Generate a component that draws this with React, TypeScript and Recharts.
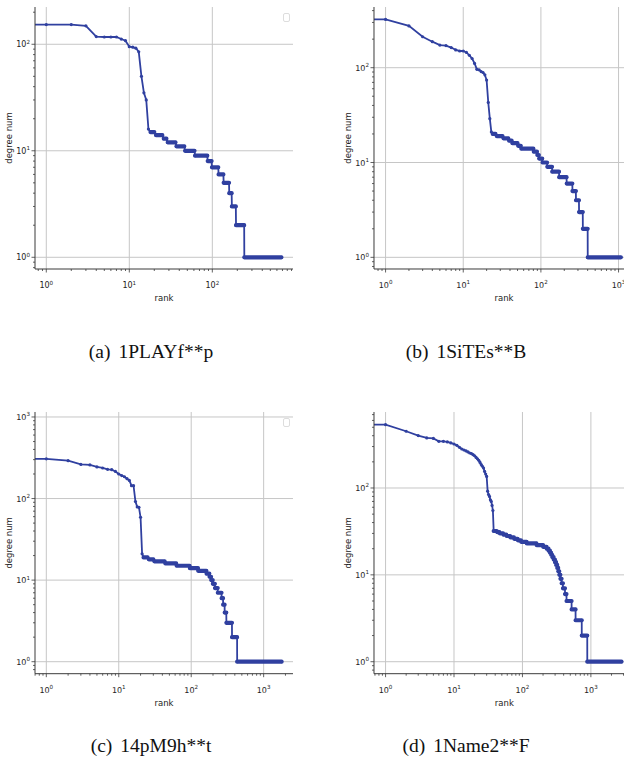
import React from 'react';
import { LineChart, Line, XAxis, YAxis, ReferenceLine } from 'recharts';

const LINE_COLOR = '#3040a0';
const GRID_COLOR = '#c6c6c6';
const SPINE_COLOR = '#3a3a3a';
const FONT = '"DejaVu Sans", sans-serif';

// log axis tick values: powers of ten get a label, the rest are minor marks
const logTicks = [
  0.6, 0.7, 0.8, 0.9, 1, 2, 3, 4, 5, 6, 7, 8, 9, 10, 20, 30, 40, 50, 60, 70, 80, 90,
  100, 200, 300, 400, 500, 600, 700, 800, 900, 1000, 2000, 3000, 4000, 5000, 6000, 7000, 8000, 9000,
];
const gridValues = [1, 10, 100, 1000];

const captionTags = ['(a)', '(b)', '(c)', '(d)'];
const captionNames = ['1PLAYf**p', '1SiTEs**B', '14pM9h**t', '1Name2**F'];

// rank 0 is clipped by the log axis, so it sits left of the frame (0.01)
// (a) 1PLAYf**p
const headRankA = [0.01, 1, 2, 3, 4, 5, 6, 7, 8, 9, 10, 11, 12, 13, 14, 15, 16, 17];
const headDegA = [153, 153, 153, 149, 118, 117, 117, 117, 112, 108, 95, 94, 92, 85, 50, 35, 30, 16];
const stepDegA = [15, 14, 13, 12, 11, 10, 9, 8, 7, 6, 5, 4, 3, 2, 1];
const stepFromA = [18, 21, 26, 29, 37, 47, 62, 88, 99, 119, 137, 160, 172, 193, 243];
const stepToA = [20, 25, 28, 36, 46, 61, 87, 98, 118, 136, 159, 171, 192, 242, 680];

// (b) 1SiTEs**B
const headRankB = [0.01, 1, 2, 3, 4, 5, 6, 7, 8, 9, 10, 11, 12, 13, 14, 15, 16, 17, 18, 19, 20, 21, 22, 23];
const headDegB = [323, 323, 276, 212, 188, 173, 171, 163, 154, 150, 150, 145, 135, 125, 111, 96, 95, 91, 89, 84, 74, 43, 29, 21];
const stepDegB = [20, 19, 18, 17, 16, 15, 14, 13, 12, 11, 10, 9, 8, 7, 6, 5, 4, 3, 2, 1];
const stepFromB = [24, 27, 33, 39, 43, 51, 56, 81, 90, 95, 105, 121, 140, 172, 215, 255, 283, 310, 347, 401];
const stepToB = [26, 32, 38, 42, 50, 55, 80, 89, 94, 104, 120, 139, 171, 214, 254, 282, 309, 346, 400, 1070];

// (c) 14pM9h**t
const headRankC = [0.01, 1, 2, 3, 4, 5, 6, 7, 8, 9, 10, 11, 12, 13, 14, 15, 16, 17, 18, 19, 20, 21];
const headDegC = [308, 307, 291, 262, 258, 244, 237, 228, 226, 215, 200, 191, 185, 175, 167, 144, 144, 92, 79, 78, 59, 21];
const stepDegC = [19, 18, 17, 16, 15, 14, 13, 12, 11, 10, 9, 8, 7, 6, 5, 4, 3, 2, 1];
const stepFromC = [22, 26, 31, 44, 63, 96, 125, 163, 179, 189, 199, 213, 233, 263, 276, 290, 306, 366, 431];
const stepToC = [25, 30, 43, 62, 95, 124, 162, 178, 188, 198, 212, 232, 262, 275, 289, 305, 365, 430, 1770];

// (d) 1Name2**F
const headRankD = [
  0.01, 1, 2, 3, 4, 5, 6, 7, 8, 9, 10, 11, 12, 13, 14, 15, 16, 17, 18, 19, 20,
  21, 22, 23, 24, 25, 26, 27, 28, 29, 30, 31, 32, 33, 34, 35, 36, 37,
];
const headDegD = [
  536, 536, 450, 401, 377, 372, 345, 345, 339, 330, 321, 310, 294, 281, 274, 267, 260, 253, 249, 242, 235,
  225, 217, 208, 197, 186, 178, 170, 155, 145, 136, 92, 84, 80, 73, 70, 63, 55,
];
const stepDegD = [32, 31, 30, 29, 28, 27, 26, 25, 24, 23, 22, 21, 20, 19, 18, 17, 16, 15, 14, 13, 12, 11, 10, 9, 8, 7, 6, 5, 4, 3, 2, 1];
const stepFromD = [38, 43, 47, 53, 59, 67, 76, 86, 96, 116, 161, 201, 226, 241, 253, 263, 273, 286, 299, 311, 323, 334, 346, 359, 374, 391, 419, 441, 523, 598, 736, 886];
const stepToD = [42, 46, 52, 58, 66, 75, 85, 95, 115, 160, 200, 225, 240, 252, 262, 272, 285, 298, 310, 322, 333, 345, 358, 373, 390, 418, 440, 522, 597, 735, 885, 2800];

const Y_W = 35;
const X_H = 36;
const MT = 2;
const MR = 2;

interface Layout {
  left: number;
  top: number;
  w: number;
  h: number;
  xLog: [number, number];
  yLog: [number, number];
}

const layouts: Layout[] = [
  { left: 35, top: 7, w: 258, h: 262, xLog: [-0.136, 2.972], yLog: [-0.11, 2.35] },
  { left: 373.7, top: 7, w: 260.1, h: 262, xLog: [-0.149, 3.2], yLog: [-0.123, 2.64] },
  { left: 35, top: 412.3, w: 258, h: 261.7, xLog: [-0.156, 3.405], yLog: [-0.147, 3.061] },
  { left: 373.7, top: 412.3, w: 260.7, h: 261.7, xLog: [-0.169, 3.64], yLog: [-0.138, 2.875] },
];

function isMajor(v: number) {
  const l = Math.log10(v);
  return Math.abs(l - Math.round(l)) < 1e-9;
}

function XTick(props: any) {
  const { x, y, payload } = props;
  const v = payload.value;
  const major = isMajor(v);
  return (
    <g>
      <line x1={x} x2={x} y1={y} y2={y + (major ? 3.5 : 2)} stroke={SPINE_COLOR} strokeWidth={0.8} />
      {major && (
        <text x={x} y={y + 19} textAnchor="middle" fontSize={8} fontFamily={FONT} fill="#222">
          10<tspan dy={-3.5} fontSize={5.6}>{Math.round(Math.log10(v))}</tspan>
        </text>
      )}
    </g>
  );
}

function YTick(props: any) {
  const { x, y, payload } = props;
  const v = payload.value;
  const major = isMajor(v);
  return (
    <g>
      <line x1={x} x2={x - (major ? 3.5 : 2)} y1={y} y2={y} stroke={SPINE_COLOR} strokeWidth={0.8} />
      {major && (
        <text x={x - 5} y={y + 3} textAnchor="end" fontSize={8} fontFamily={FONT} fill="#222">
          10<tspan dy={-3.5} fontSize={5.6}>{Math.round(Math.log10(v))}</tspan>
        </text>
      )}
    </g>
  );
}

interface PlotProps {
  lay: Layout;
  headRank: number[];
  headDeg: number[];
  stepDeg: number[];
  stepFrom: number[];
  stepTo: number[];
}

function DegreePlot({ lay, headRank, headDeg, stepDeg, stepFrom, stepTo }: PlotProps) {
  // thin line through every point
  const lineData = headRank.map((r, i) => ({ rank: r, deg: headDeg[i] }));
  stepDeg.forEach((d, i) => {
    lineData.push({ rank: stepFrom[i], deg: d });
    lineData.push({ rank: stepTo[i], deg: d });
  });
  // dense runs of equal degree look thick in the original
  const stepData: { rank: number; deg: number | null }[] = [];
  stepDeg.forEach((d, i) => {
    stepData.push({ rank: stepFrom[i], deg: d });
    stepData.push({ rank: stepTo[i], deg: d });
    stepData.push({ rank: stepTo[i], deg: null });
  });

  const xDomain = [10 ** lay.xLog[0], 10 ** lay.xLog[1]];
  const yDomain = [10 ** lay.yLog[0], 10 ** lay.yLog[1]];
  const xTicks = logTicks.filter((t) => t >= xDomain[0] && t <= xDomain[1]);
  const yTicks = logTicks.filter((t) => t >= yDomain[0] && t <= yDomain[1]);
  const xGrid = gridValues.filter((t) => t >= xDomain[0] && t <= xDomain[1]);
  const yGrid = gridValues.filter((t) => t >= yDomain[0] && t <= yDomain[1]);

  return (
    <div style={{ position: 'absolute', left: lay.left - Y_W, top: lay.top - MT }}>
      <LineChart
        width={Y_W + lay.w + MR}
        height={MT + lay.h + X_H}
        margin={{ top: MT, right: MR, left: 0, bottom: 0 }}
      >
        <XAxis
          type="number"
          dataKey="rank"
          scale="log"
          domain={xDomain}
          allowDataOverflow
          ticks={xTicks}
          interval={0}
          tickSize={0}
          tickMargin={0}
          tickLine={false}
          tick={<XTick />}
          axisLine={{ stroke: SPINE_COLOR }}
          height={X_H}
          label={{ value: 'rank', position: 'insideBottom', offset: 4, style: { fontSize: 8.5, fontFamily: FONT, fill: '#222' } }}
        />
        <XAxis xAxisId="top" orientation="top" height={0} tick={false} tickLine={false} axisLine={{ stroke: SPINE_COLOR }} />
        <YAxis
          type="number"
          dataKey="deg"
          scale="log"
          domain={yDomain}
          allowDataOverflow
          ticks={yTicks}
          interval={0}
          tickSize={0}
          tickMargin={0}
          tickLine={false}
          tick={<YTick />}
          axisLine={{ stroke: SPINE_COLOR }}
          width={Y_W}
          label={{
            value: 'degree num',
            angle: -90,
            position: 'insideLeft',
            offset: 9,
            style: { textAnchor: 'middle', fontSize: 8.5, fontFamily: FONT, fill: '#222' },
          }}
        />
        <YAxis yAxisId="right" orientation="right" width={0} tick={false} tickLine={false} axisLine={{ stroke: SPINE_COLOR }} />
        {xGrid.map((v) => (
          <ReferenceLine key={'x' + v} x={v} stroke={GRID_COLOR} strokeWidth={1} />
        ))}
        {yGrid.map((v) => (
          <ReferenceLine key={'y' + v} y={v} stroke={GRID_COLOR} strokeWidth={1} />
        ))}
        <Line
          data={stepData}
          dataKey="deg"
          type="linear"
          stroke={LINE_COLOR}
          strokeWidth={4.2}
          strokeLinecap="round"
          dot={false}
          activeDot={false}
          isAnimationActive={false}
        />
        <Line
          data={lineData}
          dataKey="deg"
          type="linear"
          stroke={LINE_COLOR}
          strokeWidth={1.8}
          dot={{ r: 1.6, fill: LINE_COLOR, stroke: 'none' }}
          activeDot={false}
          isAnimationActive={false}
        />
      </LineChart>
      {/* empty matplotlib legend frame */}
      <div
        style={{
          position: 'absolute',
          left: Y_W + lay.w - 10,
          top: MT + 6,
          width: 5,
          height: 7,
          border: '1px solid #dddddd',
          borderRadius: 2,
          background: '#fff',
        }}
      />
    </div>
  );
}

const captionPos = [
  { left: 1, top: 341 },
  { left: 316, top: 341 },
  { left: 1, top: 735 },
  { left: 316, top: 735 },
];

export default function App() {
  const series = [
    { headRank: headRankA, headDeg: headDegA, stepDeg: stepDegA, stepFrom: stepFromA, stepTo: stepToA },
    { headRank: headRankB, headDeg: headDegB, stepDeg: stepDegB, stepFrom: stepFromB, stepTo: stepToB },
    { headRank: headRankC, headDeg: headDegC, stepDeg: stepDegC, stepFrom: stepFromC, stepTo: stepToC },
    { headRank: headRankD, headDeg: headDegD, stepDeg: stepDegD, stepFrom: stepFromD, stepTo: stepToD },
  ];
  return (
    <div
      style={{
        position: 'fixed',
        left: 0,
        top: 0,
        width: 624,
        height: 771,
        overflow: 'hidden',
        background: '#fff',
      }}
    >
      {series.map((s, i) => (
        <DegreePlot key={i} lay={layouts[i]} {...s} />
      ))}
      {captionTags.map((tag, i) => (
        <div
          key={tag}
          style={{
            position: 'absolute',
            left: captionPos[i].left,
            top: captionPos[i].top,
            width: 300,
            lineHeight: '22px',
            textAlign: 'center',
            fontFamily: '"Liberation Serif", "Times New Roman", serif',
            fontSize: 19.5,
            color: '#111',
          }}
        >
          {tag}
          <span style={{ marginLeft: 8 }}>{captionNames[i]}</span>
        </div>
      ))}
    </div>
  );
}
